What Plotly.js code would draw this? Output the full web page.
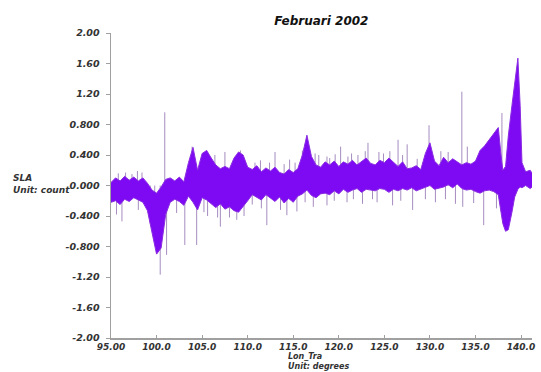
<!DOCTYPE html>
<html><head><meta charset="utf-8">
<script src="https://cdn.plot.ly/plotly-3.0.1.min.js"></script>
<style>html,body{margin:0;padding:0;background:#fff;}#chart{width:541px;height:372px;}</style>
</head><body><div id="chart"></div>
<script>
// Longitude samples (degrees) and SLA envelope (upper / lower)
var lon = [95.0,95.5,96.0,96.5,97.0,97.5,98.0,98.5,99.0,99.5,100.0,100.5,101.0,101.5,102.0,102.5,103.0,103.5,104.0,104.5,
  105.0,105.5,106.0,106.5,107.0,107.5,108.0,108.5,109.0,109.5,110.0,110.5,111.0,111.5,112.0,112.5,113.0,113.5,114.0,114.5,
  115.0,115.5,116.0,116.5,117.0,117.5,118.0,118.5,119.0,119.5,120.0,120.5,121.0,121.5,122.0,122.5,123.0,123.5,124.0,124.5,
  125.0,125.5,126.0,126.5,127.0,127.5,128.0,128.5,129.0,129.5,130.0,130.5,131.0,131.5,132.0,132.5,133.0,133.5,134.0,134.5,
  135.0,135.5,136.0,136.5,137.0,137.5,137.8,138.0,138.3,138.6,139.0,139.3,139.65,139.9,140.1,140.5,141.0,141.2];
var slaUpper = [0.04,0.10,0.06,0.12,0.07,0.11,0.06,0.10,0.03,-0.06,-0.10,-0.02,0.08,0.10,0.06,0.11,0.05,0.30,0.50,0.20,
  0.42,0.46,0.36,0.27,0.22,0.25,0.22,0.36,0.44,0.40,0.24,0.21,0.26,0.18,0.23,0.19,0.24,0.17,0.15,0.21,
  0.17,0.22,0.40,0.66,0.38,0.27,0.24,0.31,0.27,0.32,0.25,0.31,0.28,0.33,0.27,0.31,0.36,0.29,0.27,0.33,
  0.30,0.36,0.30,0.25,0.31,0.22,0.23,0.26,0.21,0.42,0.56,0.32,0.26,0.37,0.30,0.35,0.31,0.27,0.30,0.28,
  0.32,0.46,0.52,0.60,0.68,0.76,0.40,0.20,0.25,0.65,1.05,1.35,1.67,1.05,0.30,0.18,0.20,0.16];
var slaLower = [-0.22,-0.20,-0.25,-0.18,-0.21,-0.16,-0.19,-0.22,-0.33,-0.60,-0.90,-0.82,-0.38,-0.22,-0.18,-0.21,-0.26,-0.14,-0.22,-0.32,
  -0.16,-0.19,-0.24,-0.29,-0.24,-0.31,-0.28,-0.33,-0.35,-0.28,-0.20,-0.12,-0.16,-0.19,-0.12,-0.17,-0.21,-0.15,-0.23,-0.17,
  -0.22,-0.14,-0.11,-0.06,-0.13,-0.16,-0.11,-0.10,-0.12,-0.07,-0.11,-0.05,-0.09,-0.06,-0.04,-0.09,-0.05,-0.06,-0.07,-0.04,
  -0.05,-0.09,-0.05,-0.07,-0.04,-0.06,-0.03,-0.07,-0.05,-0.02,0.00,-0.05,-0.04,-0.02,0.01,-0.03,0.02,-0.04,-0.06,-0.05,
  -0.08,-0.10,-0.07,-0.06,-0.08,-0.12,-0.35,-0.50,-0.60,-0.58,-0.35,-0.15,-0.05,-0.02,-0.03,0.00,-0.04,-0.02];

// Isolated spikes (longitude, low end, high end)
var spikeLon = [95.8,96.6,97.3,97.9,98.4,100.9,103.9,106.4,107.5,109.2,110.8,113.0,114.6,116.0,117.8,118.7,120.2,121.4,123.2,124.4,
  126.5,127.5,129.9,131.2,132.0,133.5,134.1,137.9,
  111.4,112.4,114.0,115.2,117.4,119.0,119.6,121.0,122.1,122.9,124.9,125.6,127.0,128.6,
  95.6,96.2,98.0,100.4,101.1,102.2,103.1,104.4,105.6,107.0,108.0,112.1,113.6,114.3,115.4,117.2,118.7,120.9,122.6,124.2,
  125.9,128.1,130.6,132.8,133.6,134.8,135.9,137.3,
  99.3,99.8,105.2,106.7,108.8,109.6,110.5,111.5,116.3,119.5,121.6,123.7,126.8,129.5,131.7];
var spikeLow = [0,0,0,0,0,0,0,0,0,0,0,0,0,0,0,0,0,0,0,0,
  0,0,0,0,0,0,0,0,
  0,0,0,0,0,0,0,0,0,0,0,0,0,0,
  -0.38,-0.47,-0.32,-1.17,-0.91,-0.36,-0.78,-0.78,-0.40,-0.54,-0.42,-0.52,-0.32,-0.39,-0.34,-0.28,-0.26,-0.22,-0.24,-0.22,
  -0.26,-0.32,-0.22,-0.24,-0.28,-0.23,-0.52,-0.30,
  -0.50,-0.78,-0.35,-0.42,-0.45,-0.40,-0.25,-0.30,-0.22,-0.20,-0.18,-0.18,-0.20,-0.18,-0.18];
var spikeHigh = [0.16,0.17,0.15,0.19,0.17,0.96,0.51,0.40,0.44,0.46,0.30,0.44,0.34,0.46,0.40,0.38,0.51,0.42,0.56,0.44,
  0.60,0.54,0.79,0.45,0.44,1.23,0.51,0.95,
  0.33,0.30,0.28,0.30,0.42,0.36,0.41,0.38,0.40,0.45,0.42,0.45,0.40,0.35,
  0,0,0,0,0,0,0,0,0,0,0,0,0,0,0,0,0,0,0,0,
  0,0,0,0,0,0,0,0,
  0,0,0,0,0,0,0,0,0,0,0,0,0,0,0];

var yTickVals = [2.0,1.6,1.2,0.8,0.4,0.0,-0.4,-0.8,-1.2,-1.6,-2.0];
var yTickText = ["2.00","1.60","1.20","0.800","0.400","0.000","-0.400","-0.800","-1.20","-1.60","-2.00"];
var xTickVals = [95,100,105,110,115,120,125,130,135,140];
var xTickText = ["95.00","100.0","105.0","110.0","115.0","120.0","125.0","130.0","135.0","140.0"];

function bi(s) { return '<b><i>' + s + '</i></b>'; }

var spX = [], spY = [];
for (var i = 0; i < spikeLon.length; i++) {
  spX.push(spikeLon[i], spikeLon[i], null);
  spY.push(spikeLow[i], spikeHigh[i], null);
}

var purple = '#7d0af2';
var traces = [
  {x: spX, y: spY, mode: 'lines', line: {color: '#a58cc0', width: 1}, hoverinfo: 'skip', connectgaps: false},
  {x: lon, y: slaLower, mode: 'lines', line: {color: '#8a2be2', width: 1}, hoverinfo: 'skip'},
  {x: lon, y: slaUpper, mode: 'lines', fill: 'tonexty', fillcolor: purple, line: {color: '#8a2be2', width: 1}, hoverinfo: 'skip'}
];

var tf = {family: 'DejaVu Sans', size: 9.5, color: '#333'};
var xtf = {family: 'DejaVu Sans', size: 9, color: '#333'};
var af = {family: 'DejaVu Sans', size: 9, color: '#333'};
var layout = {
  width: 541, height: 372,
  margin: {l: 111, r: 9, t: 33, b: 34},
  paper_bgcolor: '#fff', plot_bgcolor: '#fff',
  showlegend: false,
  title: {text: bi('Februari 2002'), x: 0.594, xanchor: 'center', y: 0.945, yanchor: 'middle',
    font: {family: 'DejaVu Sans', size: 12, color: '#111'}},
  xaxis: {range: [95, 141.2], tickvals: xTickVals, ticktext: xTickText.map(bi), showgrid: false, zeroline: false,
    showline: true, linecolor: '#a0a0a0', linewidth: 1.5, ticks: 'inside', ticklen: 3, tickcolor: '#a0a0a0',
    tickfont: xtf, ticklabelstandoff: 0},
  yaxis: {range: [-2, 2], tickvals: yTickVals, ticktext: yTickText.map(bi), showgrid: false, zeroline: false,
    showline: true, linecolor: '#a0a0a0', linewidth: 1.5, ticks: 'outside', ticklen: 4, tickcolor: '#a0a0a0',
    tickfont: tf, ticklabelstandoff: 4},
  annotations: [
    {text: bi('SLA'), xref: 'paper', yref: 'paper', x: -0.237, y: (372 - 34 - 178.5) / 305, xanchor: 'left', yanchor: 'middle',
      showarrow: false, font: af},
    {text: bi('Unit: count'), xref: 'paper', yref: 'paper', x: -0.237, y: (372 - 34 - 190) / 305, xanchor: 'left', yanchor: 'middle',
      showarrow: false, font: af},
    {text: bi('Lon_Tra') + '<br>' + bi('Unit: degrees'), xref: 'paper', yref: 'paper', x: 0.418, y: (372 - 34 - 372) / 305,
      xanchor: 'left', yanchor: 'bottom', align: 'left', borderpad: 0, showarrow: false,
      font: {family: 'DejaVu Sans', size: 8, color: '#333'}}
  ]
};
Plotly.newPlot('chart', traces, layout, {staticPlot: true, displayModeBar: false});
</script>
</body></html>
